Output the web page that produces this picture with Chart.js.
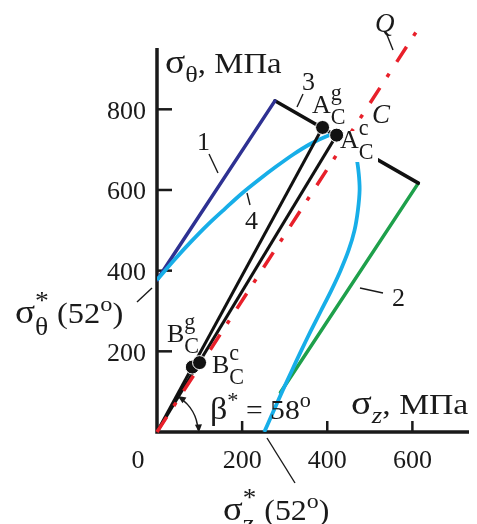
<!DOCTYPE html>
<html>
<head>
<meta charset="utf-8">
<script src="https://cdn.jsdelivr.net/npm/chart.js@4"></script>
<style>
  html, body { margin: 0; padding: 0; background: #fff; }
  canvas { display: block; }
</style>
</head>
<body>
<canvas id="chart" width="477" height="524"></canvas>
<script>
// sigma_z on x, sigma_theta on y, both MPa
const xTicks = [200, 400, 600];
const yTicks = [200, 400, 600, 800];

const line1Z = [0, 277];   const line1T = [377, 821];   // 1
const line3Z = [277, 614]; const line3T = [821, 617];   // 3
const line2Z = [614, 290]; const line2T = [617, 98];    // 2
const lineQZ = [0, 620];   const lineQT = [0, 1010];    // Q (beta* = 58 deg)
const rayGZ = [0, 389];    const rayGT = [0, 755];      // O -> A_C^g
const rayCZ = [0, 422];    const rayCT = [0, 736];      // O -> A_C^c

// curve 4, from sigma_theta* (52) round to sigma_z* (52)
const curve4Z = [0, 40, 80, 120, 160, 200, 240, 280, 320, 360, 400, 425, 446, 460, 469, 474, 476, 472, 464, 450, 431, 409, 385, 361, 338, 316, 294, 273, 252];
const curve4T = [377, 426, 472, 515, 554, 592, 626, 658, 688, 714, 734, 741, 734, 710, 678, 640, 600, 550, 500, 450, 400, 350, 300, 250, 200, 150, 100, 50, 0];

const pointNames = ['A_C^g', 'A_C^c', 'B_C^g', 'B_C^c'];
const pointZ = [389, 422, 83, 100];
const pointT = [755, 736, 161, 172];

const pts = (xs, ys) => xs.map((v, i) => ({ x: v, y: ys[i] }));

const FONT = '"Liberation Serif", "Times New Roman", serif';
const font = (s, it) => (it ? 'italic ' : '') + s + 'px ' + FONT;

// draws text pieces: normal, italic, greek, sub, sup, stacked sup/sub
function rich(ctx, x, y, parts, size, sx) {
    ctx.save();
    ctx.translate(x, y);
    ctx.scale(sx || 1, 1);
    let cx = 0;
    parts.forEach(p => {
        const t = p[0], k = p[1];
        if (k === 'st') {
            const s = size * 0.85;
            ctx.font = font(s);
            ctx.fillText(t[0], cx, -size * 0.5);
            const w1 = ctx.measureText(t[0]).width;
            ctx.font = font(s, p[2]);
            ctx.fillText(t[1], cx, size * 0.42);
            cx += Math.max(w1, ctx.measureText(t[1]).width);
            return;
        }
        let s = size, dy = 0, it = false;
        if (k === 'i') it = true;
        if (k === 'g') s = size * 1.15;
        if (k === 'sub' || k === 'isub') { s = size * 0.8; dy = size * 0.3; it = k === 'isub'; }
        if (k === 'sup') { s = size * 0.75; dy = -size * 0.42; }
        ctx.font = font(s, it);
        ctx.fillText(t, cx, dy);
        cx += ctx.measureText(t).width;
    });
    ctx.restore();
}

function leader(ctx, x1, y1, x2, y2) {
    ctx.beginPath();
    ctx.moveTo(x1, y1);
    ctx.lineTo(x2, y2);
    ctx.stroke();
}

function arrowHead(ctx, tx, ty, dx, dy) {
    const len = 8, half = 3.5;
    const n = Math.hypot(dx, dy); dx /= n; dy /= n;
    ctx.beginPath();
    ctx.moveTo(tx, ty);
    ctx.lineTo(tx - dx * len - dy * half, ty - dy * len + dx * half);
    ctx.lineTo(tx - dx * len + dy * half, ty - dy * len - dx * half);
    ctx.closePath();
    ctx.fill();
}

const overlay = {
    id: 'overlay',
    beforeDatasetsDraw(chart) {
        const { ctx, chartArea: a, scales: { x, y } } = chart;
        ctx.save();
        ctx.strokeStyle = '#1a1a1a';
        ctx.fillStyle = '#1a1a1a';
        ctx.lineWidth = 3.5;
        ctx.beginPath();
        ctx.moveTo(a.left, a.top);
        ctx.lineTo(a.left, a.bottom);
        ctx.lineTo(a.right, a.bottom);
        ctx.stroke();

        ctx.lineWidth = 2.5;
        yTicks.forEach(v => leader(ctx, a.left, y.getPixelForValue(v), a.left + 15, y.getPixelForValue(v)));
        xTicks.forEach(v => leader(ctx, x.getPixelForValue(v), a.bottom, x.getPixelForValue(v), a.bottom - 11));

        ctx.font = font(26);
        ctx.textAlign = 'right';
        yTicks.forEach(v => ctx.fillText(String(v), a.left - 11, y.getPixelForValue(v) + 9.5));
        ctx.textAlign = 'center';
        xTicks.forEach(v => ctx.fillText(String(v), x.getPixelForValue(v), a.bottom + 36));
        ctx.fillText('0', a.left - 19, a.bottom + 36);
        ctx.restore();
    },
    beforeDatasetDraw(chart, args) {
        if (args.index !== 0) return;
        const { ctx, scales: { x, y } } = chart;
        ctx.save();
        ctx.textAlign = 'left';

        // white patch under A_C label
        ctx.fillStyle = '#fff';
        ctx.fillRect(339, 131, 39, 31);

        ctx.fillStyle = '#1a1a1a';
        ctx.strokeStyle = '#1a1a1a';
        ctx.lineWidth = 1.4;

        rich(ctx, 165, 73, [['σ', 'g'], ['θ', 'sub'], [', МПа', 'n']], 29, 1.13);
        rich(ctx, 351, 414, [['σ', 'g'], ['z', 'isub'], [', МПа', 'n']], 29, 1.16);

        ctx.font = font(27, true);
        ctx.fillText('Q', 375, 32);
        ctx.fillText('C', 372, 123);
        leader(ctx, 387, 35, 393, 50);

        ctx.font = font(26);
        ctx.fillText('1', 197, 150);
        leader(ctx, 209, 154, 218, 173);
        ctx.fillText('3', 302, 90);
        leader(ctx, 297, 107, 303, 94);
        ctx.fillText('4', 245, 229);
        leader(ctx, 247, 193, 250, 205);
        ctx.fillText('2', 392, 306);
        leader(ctx, 360, 288, 383, 293);

        rich(ctx, 312, 113, [['A', 'n'], [['g', 'C'], 'st']], 26);
        rich(ctx, 340, 148, [['A', 'n'], [['c', 'C'], 'st']], 26);
        rich(ctx, 167, 342, [['B', 'n'], [['g', 'C'], 'st']], 26);
        rich(ctx, 212, 373, [['B', 'n'], [['c', 'C'], 'st']], 26);

        rich(ctx, 15, 323, [['σ', 'g'], [['*', 'θ'], 'st'], [' (52', 'n'], ['o', 'sup'], [')', 'n']], 29, 1.12);
        leader(ctx, 137, 302, 152, 288);
        rich(ctx, 223, 520, [['σ', 'g'], [['*', 'z', true], 'st'], [' (52', 'n'], ['o', 'sup'], [')', 'n']], 29, 1.1);
        leader(ctx, 267, 438, 295, 483);
        rich(ctx, 210, 419, [['β', 'g'], ['*', 'sup'], [' = 58', 'n'], ['o', 'sup']], 28, 1.06);

        // beta* arc
        const x0 = x.getPixelForValue(0), y0 = y.getPixelForValue(0), r = 41;
        const t0 = -0.98, t1 = -0.06;
        ctx.lineWidth = 1.6;
        ctx.beginPath();
        ctx.arc(x0, y0, r, t0, t1);
        ctx.stroke();
        arrowHead(ctx, x0 + r * Math.cos(t1) + 1, y0 + r * Math.sin(t1) + 3, -Math.sin(t1), Math.cos(t1));
        arrowHead(ctx, x0 + r * Math.cos(t0) - 2, y0 + r * Math.sin(t0) - 2, Math.sin(t0), -Math.cos(t0));
        ctx.restore();
    }
};

const base = { showLine: true, pointRadius: 0, borderWidth: 3.5, tension: 0, fill: false };

new Chart(document.getElementById('chart'), {
    type: 'scatter',
    data: {
        datasets: [
            { label: 'points', data: pts(pointZ, pointT), showLine: false, pointRadius: 7,
              pointBackgroundColor: '#111', pointBorderColor: '#fff', pointBorderWidth: 1, order: 0 },
            { ...base, label: 'Q', data: pts(lineQZ, lineQT), borderColor: '#e8202a', borderWidth: 3.5,
              borderDash: [18, 13, 4, 14], clip: false, order: 1 },
            { ...base, label: 'Ag', data: pts(rayGZ, rayGT), borderColor: '#111', borderWidth: 3, order: 2 },
            { ...base, label: 'Ac', data: pts(rayCZ, rayCT), borderColor: '#111', borderWidth: 3, order: 2 },
            { ...base, label: '4', data: pts(curve4Z, curve4T), borderColor: '#17aee8', borderWidth: 3.8,
              tension: 0.3, order: 3 },
            { ...base, label: '1', data: pts(line1Z, line1T), borderColor: '#2e3192', borderCapStyle: 'round', order: 4 },
            { ...base, label: '3', data: pts(line3Z, line3T), borderColor: '#111', borderCapStyle: 'round', order: 4 },
            { ...base, label: '2', data: pts(line2Z, line2T), borderColor: '#1ea04b', borderCapStyle: 'round', order: 4 }
        ]
    },
    options: {
        responsive: false,
        animation: false,
        devicePixelRatio: 1,
        events: [],
        layout: { padding: { left: 157, right: 8, top: 48, bottom: 92 } },
        plugins: { legend: { display: false }, tooltip: { enabled: false } },
        scales: {
            x: { type: 'linear', min: 0, max: 733, display: false },
            y: { type: 'linear', min: 0, max: 952, display: false }
        }
    },
    plugins: [overlay]
});
</script>
</body>
</html>
